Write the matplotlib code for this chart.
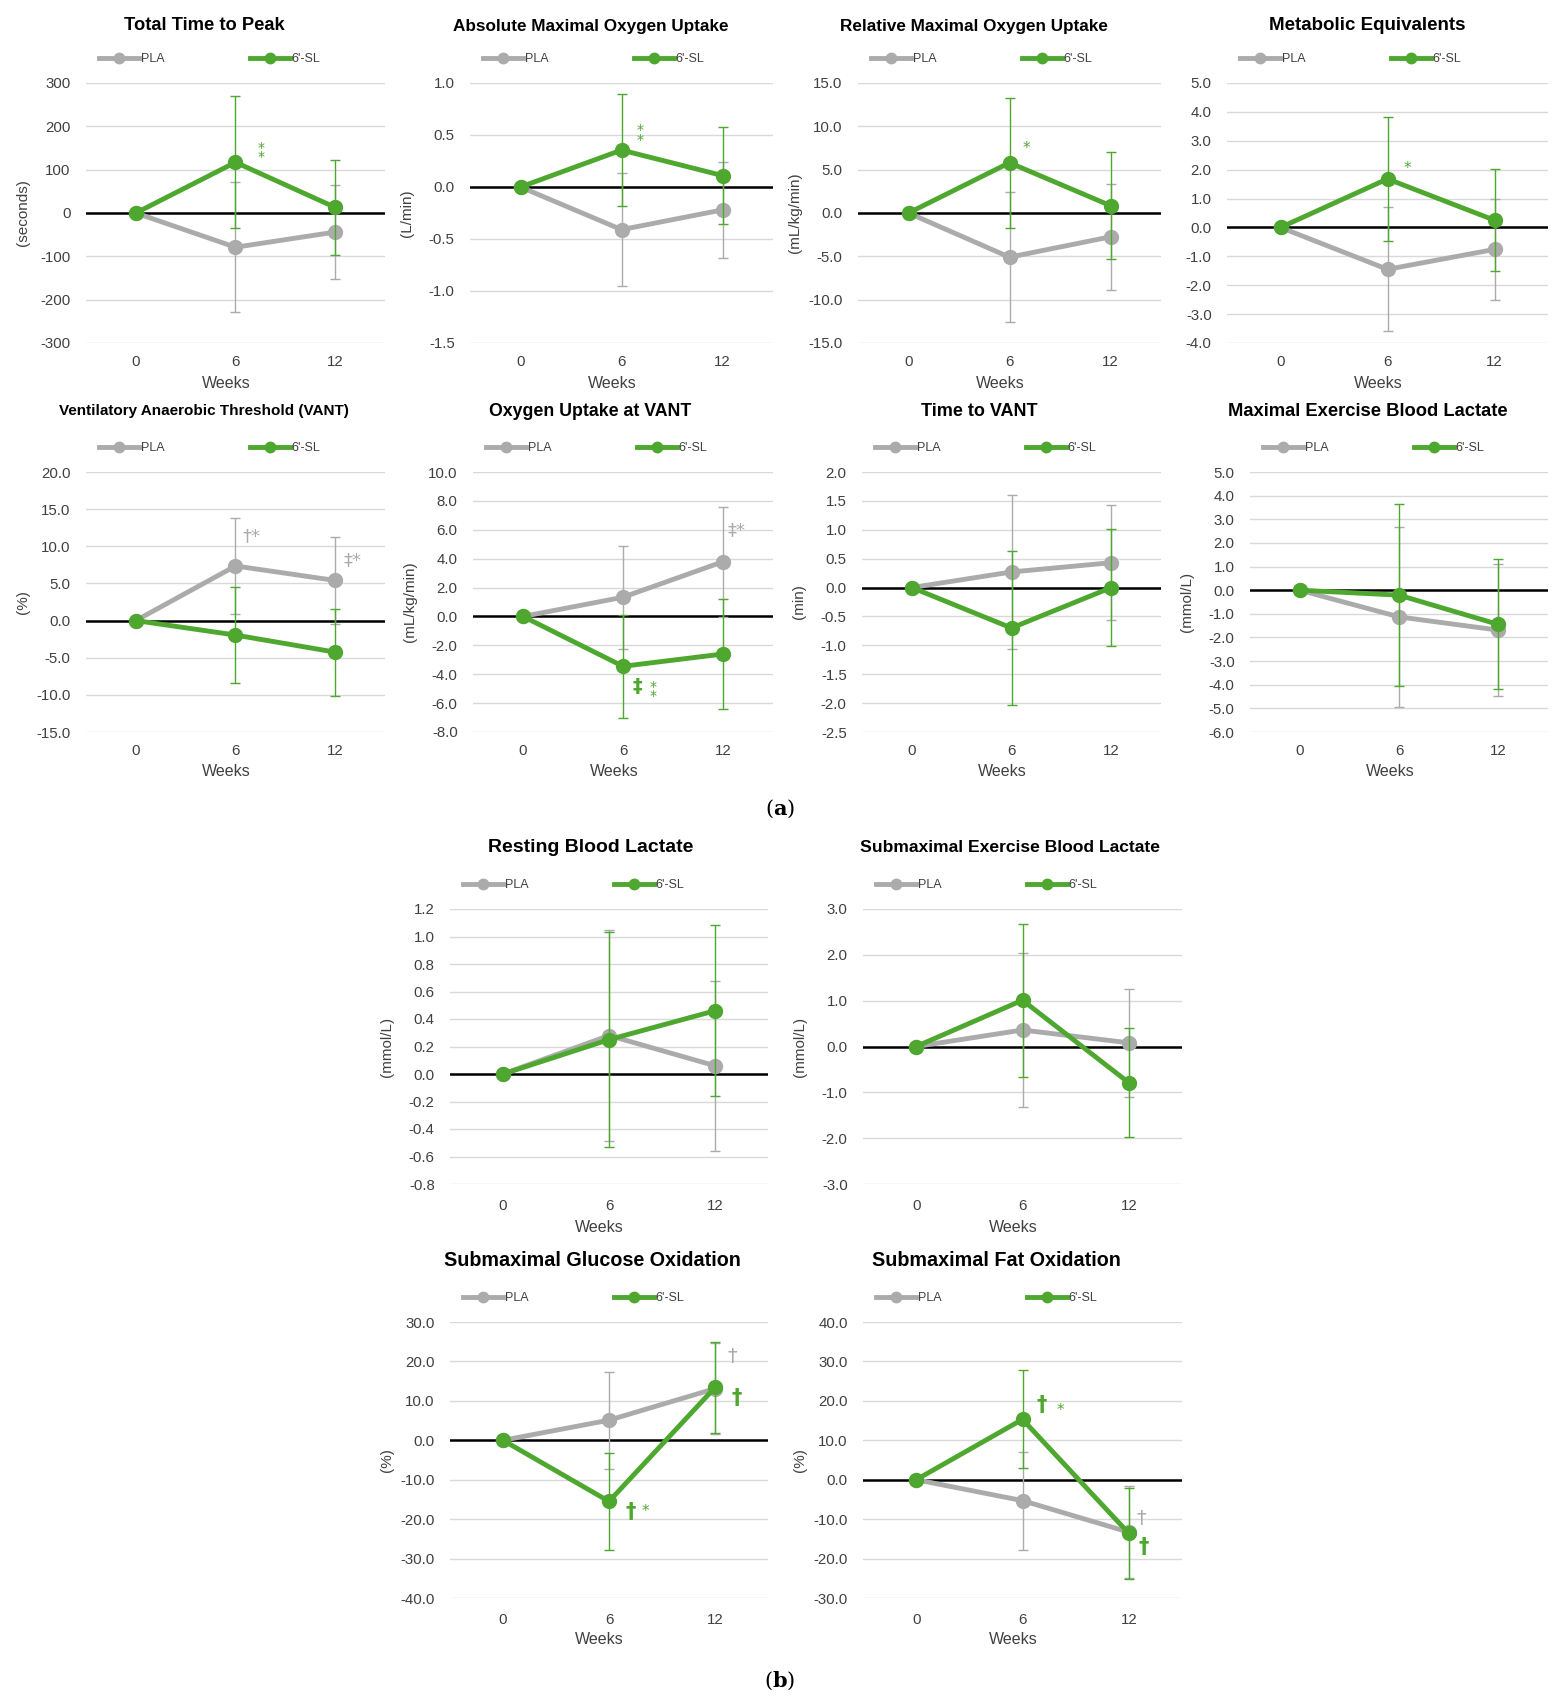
import matplotlib
matplotlib.use("Agg")
import matplotlib.pyplot as plt
from matplotlib.ticker import FormatStrFormatter
import numpy as np

# ---- data ----
WEEKS = ["0", "6", "12"]

TITLES = [
    "Total Time to Peak",
    "Absolute Maximal Oxygen Uptake",
    "Relative Maximal Oxygen Uptake",
    "Metabolic Equivalents",
    "Ventilatory Anaerobic Threshold (VANT)",
    "Oxygen Uptake at VANT",
    "Time to VANT",
    "Maximal Exercise Blood Lactate",
    "Resting Blood Lactate",
    "Submaximal Exercise Blood Lactate",
    "Submaximal Glucose Oxidation",
    "Submaximal Fat Oxidation",
]
UNITS = ["(seconds)", "(L/min)", "(mL/kg/min)", "", "(%)", "(mL/kg/min)",
         "(min)", "(mmol/L)", "(mmol/L)", "(mmol/L)", "(%)", "(%)"]

Y_MIN = [-300, -1.5, -15, -4, -15, -8, -2.5, -6, -0.8, -3, -40, -30]
Y_MAX = [300, 1.0, 15, 5, 20, 10, 2.0, 5, 1.2, 3, 30, 40]
Y_STEP = [100, 0.5, 5, 1, 5, 2, 0.5, 1, 0.2, 1, 10, 10]
Y_FMT = ["%d"] + ["%.1f"] * 11

PLA_MEAN = [
    [0, -79, -44], [0, -0.41, -0.22], [0, -5.1, -2.75], [0, -1.45, -0.76],
    [0, 7.35, 5.4], [0, 1.33, 3.79], [0, 0.27, 0.43], [0, -1.13, -1.69],
    [0, 0.28, 0.06], [0, 0.36, 0.08], [0, 5.1, 13.1], [0, -5.3, -13.3],
]
PLA_SD = [
    [0, 150, 109], [0, 0.545, 0.46], [0, 7.5, 6.15], [0, 2.15, 1.76],
    [0, 6.5, 5.85], [0, 3.56, 3.8], [0, 1.33, 1.0], [0, 3.8, 2.8],
    [0, 0.77, 0.62], [0, 1.67, 1.18], [0, 12.3, 11.6], [0, 12.4, 11.6],
]
SL_MEAN = [
    [0, 117, 13], [0, 0.355, 0.11], [0, 5.8, 0.85], [0, 1.68, 0.25],
    [0, -1.95, -4.25], [0, -3.45, -2.6], [0, -0.70, 0.0], [0, -0.21, -1.45],
    [0, 0.25, 0.46], [0, 1.01, -0.79], [0, -15.5, 13.4], [0, 15.3, -13.6],
]
SL_SD = [
    [0, 152, 109], [0, 0.54, 0.47], [0, 7.5, 6.15], [0, 2.15, 1.76],
    [0, 6.5, 5.85], [0, 3.56, 3.8], [0, 1.33, 1.02], [0, 3.85, 2.75],
    [0, 0.78, 0.62], [0, 1.67, 1.19], [0, 12.3, 11.6], [0, 12.4, 11.6],
]

# significance marks: panel, text, x (category index), y (data), series, size, bold
MARKS = [
    (0, "*\n*", 1.26, 140, "sl", 10, False),
    (1, "*\n*", 1.18, 0.50, "sl", 10, False),
    (2, "*", 1.17, 7.5, "sl", 11, False),
    (3, "*", 1.19, 2.05, "sl", 11, False),
    (4, "†*", 1.16, 11.3, "pla", 13, False),
    (4, "‡*", 2.17, 8.1, "pla", 13, False),
    (5, "‡*", 2.14, 6.0, "pla", 13, False),
    (5, "‡", 1.14, -4.83, "sl", 14, True),
    (5, "*\n*", 1.30, -5.2, "sl", 10, False),
    (10, "†", 1.20, -18.2, "sl", 15, True),
    (10, "*", 1.34, -18.0, "sl", 11, False),
    (10, "†", 2.16, 21.2, "pla", 14, False),
    (10, "†", 2.20, 10.6, "sl", 15, True),
    (11, "†", 1.18, 18.9, "sl", 15, True),
    (11, "*", 1.36, 17.5, "sl", 11, False),
    (11, "†", 2.12, -9.9, "pla", 14, False),
    (11, "†", 2.14, -17.0, "sl", 15, True),
]

# ---- layout (pixels: left, top, right, bottom, xtick pad, weeks offset) ----
BOXES = [
    (86, 83, 385, 343, 12, 40), (470, 83, 773, 343, 12, 40),
    (858, 83, 1161, 343, 12, 40), (1227, 83, 1548, 343, 12, 40),
    (86, 472, 385, 732, 12, 39), (473, 472, 773, 732, 12, 39),
    (862, 472, 1161, 732, 12, 39), (1250, 472, 1548, 732, 12, 39),
    (450, 909, 768, 1184, 15, 43), (863, 909, 1182, 1184, 15, 43),
    (450, 1322, 768, 1598, 15, 42), (863, 1322, 1182, 1598, 15, 42),
]
TITLE_DX = [-31, -31, -36, -20, -32, -33, -32, -31, -18, -12, -17, -26]
TITLE_DY = [57, 57, 57, 57, 61, 61, 61, 61, 61, 61, 61, 61]
TITLE_SIZE = [13.2, 12.3, 12.3, 13.5, 11.0, 12.8, 13.0, 13.2,
              14.0, 12.6, 14.2, 14.2]

GREEN = "#4EA72E"
GRAY = "#ABABAB"
TEXT = "#404040"

plt.rcParams["font.family"] = ["Liberation Sans", "DejaVu Sans"]
plt.rcParams["axes.unicode_minus"] = False
plt.rcParams["mathtext.fontset"] = "dejavuserif"

W, H = 1560, 1703
fig = plt.figure(figsize=(W / 100, H / 100), dpi=100)
x = np.arange(len(WEEKS))

for i in range(12):
    l, t, r, b, xpad, wk = BOXES[i]
    w, h = r - l, b - t
    ax = fig.add_axes([l / W, 1 - b / H, w / W, h / H])

    ax.errorbar(x[1:], PLA_MEAN[i][1:], yerr=PLA_SD[i][1:], fmt="none",
                ecolor=GRAY, elinewidth=1, capsize=3.5, capthick=1, zorder=3)
    ax.plot(x, PLA_MEAN[i], color=GRAY, lw=3.5, marker="o", ms=10,
            zorder=4, label="PLA")
    ax.errorbar(x[1:], SL_MEAN[i][1:], yerr=SL_SD[i][1:], fmt="none",
                ecolor=GREEN, elinewidth=1, capsize=3.5, capthick=1, zorder=5)
    ax.plot(x, SL_MEAN[i], color=GREEN, lw=3.5, marker="o", ms=10,
            zorder=6, label="6'-SL")

    ax.axhline(0, color="black", lw=1.8, zorder=2)

    n = int(round((Y_MAX[i] - Y_MIN[i]) / Y_STEP[i]))
    ax.set_ylim(Y_MIN[i], Y_MAX[i])
    ax.set_yticks(np.linspace(Y_MIN[i], Y_MAX[i], n + 1))
    ax.yaxis.set_major_formatter(FormatStrFormatter(Y_FMT[i]))
    ax.set_xlim(-0.5, 2.5)
    ax.set_xticks(x)
    ax.set_xticklabels(WEEKS)
    ax.yaxis.grid(True, color="#D9D9D9", lw=1)
    ax.set_axisbelow(True)
    for s in ax.spines.values():
        s.set_visible(False)
    ax.tick_params(axis="both", length=0, labelsize=10.8, labelcolor=TEXT)
    ax.tick_params(axis="y", pad=11)
    ax.tick_params(axis="x", pad=xpad * 0.72)

    ax.set_ylabel(UNITS[i], fontsize=11, color=TEXT)
    ax.yaxis.set_label_coords(-63 / w, 0.5)
    ax.yaxis.label.set_va("center")
    ax.set_xlabel("Weeks", fontsize=11.5, color=TEXT)
    ax.xaxis.set_label_coords(0.47, -wk / h)
    ax.xaxis.label.set_va("center")

    ax.legend(loc="center left", bbox_to_anchor=(13 / w, 1 + 24 / h), ncol=2,
              frameon=False, fontsize=9, handlelength=3.2, handletextpad=0.15,
              columnspacing=6.8, borderaxespad=0, borderpad=0, markerscale=0.75,
              labelcolor=TEXT)

    fig.text(((l + r) / 2 + TITLE_DX[i]) / W, 1 - (t - TITLE_DY[i]) / H,
             TITLES[i], fontsize=TITLE_SIZE[i], fontweight="bold",
             ha="center", va="center")

    for p, txt, mx, my, grp, size, bold in MARKS:
        if p != i:
            continue
        ax.text(mx, my, txt, color=GREEN if grp == "sl" else GRAY,
                fontsize=size, fontweight="bold" if bold else "normal",
                family="DejaVu Sans", ha="center", va="center",
                linespacing=0.6, zorder=7)

fig.text(780 / W, 1 - 809 / H, r"($\mathbf{a}$)", fontsize=15,
         family="DejaVu Serif", ha="center", va="center")
fig.text(780 / W, 1 - 1681 / H, r"($\mathbf{b}$)", fontsize=15,
         family="DejaVu Serif", ha="center", va="center")

fig.savefig("out.png", dpi=100, facecolor="white")
